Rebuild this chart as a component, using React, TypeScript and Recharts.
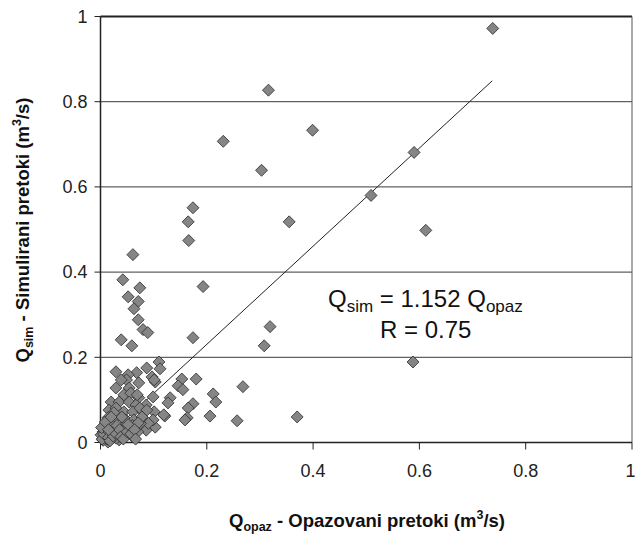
import React from 'react';
import { ScatterChart, Scatter, XAxis, YAxis, CartesianGrid, ReferenceLine, Customized } from 'recharts';

// Observed flow Q_opaz (m3/s)
const observedFlow = [
  0.738, 0.316, 0.231, 0.399, 0.590, 0.303, 0.509, 0.612, 0.588, 0.355,
  0.174, 0.165, 0.166, 0.193, 0.319, 0.308, 0.174, 0.268, 0.370, 0.257,
  0.061, 0.042, 0.074, 0.052, 0.071, 0.063, 0.071, 0.080, 0.089, 0.039,
  0.059, 0.110, 0.112, 0.087, 0.068, 0.029, 0.052, 0.049, 0.097, 0.103,
  0.153, 0.180, 0.146, 0.155, 0.212, 0.217, 0.131, 0.127, 0.174, 0.165,
  0.206, 0.163, 0.159, 0.121, 0.103, 0.099, 0.039, 0.072, 0.101, 0.029,
  0.054, 0.044, 0.057, 0.072, 0.020, 0.035, 0.054, 0.067, 0.086, 0.016,
  0.029, 0.044, 0.061, 0.080, 0.101, 0.119, 0.014, 0.029, 0.048, 0.063,
  0.080, 0.099, 0.010, 0.024, 0.039, 0.054, 0.071, 0.086, 0.005, 0.016,
  0.033, 0.048, 0.061, 0.007, 0.020, 0.035, 0.001, 0.014, 0.005, 0.010,
  0.022, 0.026, 0.030, 0.012, 0.042, 0.045, 0.018, 0.008, 0.070, 0.090,
  0.075, 0.060, 0.040, 0.025, 0.069, 0.074, 0.087, 0.078, 0.071,
  0.003, 0.006, 0.012, 0.015, 0.018, 0.024, 0.028, 0.031, 0.036, 0.038,
  0.043, 0.050, 0.052, 0.057, 0.064, 0.066, 0.002, 0.009, 0.020, 0.015,
];

// Simulated flow Q_sim (m3/s)
const simulatedFlow = [
  0.972, 0.827, 0.707, 0.733, 0.681, 0.639, 0.580, 0.498, 0.189, 0.518,
  0.551, 0.518, 0.474, 0.366, 0.272, 0.227, 0.246, 0.131, 0.060, 0.051,
  0.441, 0.382, 0.363, 0.342, 0.331, 0.314, 0.288, 0.265, 0.258, 0.241,
  0.227, 0.189, 0.173, 0.175, 0.164, 0.166, 0.159, 0.147, 0.154, 0.142,
  0.149, 0.149, 0.133, 0.124, 0.114, 0.095, 0.105, 0.093, 0.091, 0.081,
  0.062, 0.058, 0.053, 0.062, 0.036, 0.107, 0.147, 0.140, 0.147, 0.128,
  0.128, 0.112, 0.116, 0.105, 0.095, 0.095, 0.095, 0.088, 0.088, 0.076,
  0.081, 0.072, 0.072, 0.072, 0.072, 0.065, 0.058, 0.058, 0.053, 0.053,
  0.053, 0.053, 0.041, 0.036, 0.036, 0.034, 0.034, 0.029, 0.025, 0.022,
  0.022, 0.018, 0.013, 0.011, 0.011, 0.006, 0.018, 0.001, 0.005, 0.015,
  0.020, 0.030, 0.010, 0.008, 0.022, 0.030, 0.045, 0.030, 0.025, 0.045,
  0.045, 0.040, 0.060, 0.070, 0.112, 0.081, 0.076, 0.060, 0.046,
  0.008, 0.020, 0.030, 0.012, 0.004, 0.015, 0.022, 0.040, 0.030, 0.013,
  0.008, 0.025, 0.042, 0.020, 0.030, 0.008, 0.035, 0.048, 0.060, 0.030,
];

const axisTicks = [0, 0.2, 0.4, 0.6, 0.8, 1];
const regressionSlope = 1.152;
const correlation = 0.75;
const trendRange = [0, 0.737];

const points = observedFlow.map((x, i) => ({ x, y: simulatedFlow[i] }));
const trend = trendRange.map((x) => ({ x, y: regressionSlope * x }));

const FONT = 'Arial, "Liberation Sans", sans-serif';

const Diamond = (props: any) => {
  const { cx, cy } = props;
  const r = 6;
  return (
    <polygon
      points={`${cx},${cy - r} ${cx + r},${cy} ${cx},${cy + r} ${cx - r},${cy}`}
      fill="#858585"
      stroke="#2a2a2a"
      strokeWidth={0.8}
    />
  );
};

const Annotations = () => (
  <g fontFamily={FONT} fill="#111">
    <text x={328} y={307} fontSize={24}>
      Q<tspan dy={5} fontSize={17}>sim</tspan>
      <tspan dy={-5}> = {regressionSlope.toFixed(3)} Q</tspan>
      <tspan dy={5} fontSize={17}>opaz</tspan>
    </text>
    <text x={380} y={338} fontSize={24}>
      R = {correlation.toFixed(2)}
    </text>
    <text x={367} y={527} fontSize={18.5} fontWeight="bold" textAnchor="middle">
      Q<tspan dy={4} fontSize={12.5}>opaz</tspan>
      <tspan dy={-4}> - Opazovani pretoki (m</tspan>
      <tspan dy={-8} fontSize={12.5}>3</tspan>
      <tspan dy={8}>/s)</tspan>
    </text>
    <text
      x={0}
      y={0}
      fontSize={18.5}
      fontWeight="bold"
      textAnchor="middle"
      transform="translate(29,230) rotate(-90)"
    >
      Q<tspan dy={4} fontSize={12.5}>sim</tspan>
      <tspan dy={-4}> - Simulirani pretoki (m</tspan>
      <tspan dy={-8} fontSize={12.5}>3</tspan>
      <tspan dy={8}>/s)</tspan>
    </text>
  </g>
);

export default function App() {
  return (
    <div style={{ position: 'absolute', left: 0, top: 0, background: '#fff' }}>
      <ScatterChart
        width={635}
        height={537}
        margin={{ top: 16.5, right: 3, left: 40.5, bottom: 54.5 }}
      >
        <CartesianGrid vertical={false} stroke="#3a3a3a" strokeWidth={1} />
        <XAxis
          type="number"
          dataKey="x"
          domain={[0, 1]}
          ticks={axisTicks}
          height={40}
          tickSize={7}
          tickMargin={15}
          axisLine={{ stroke: '#222', strokeWidth: 1.5 }}
          tickLine={{ stroke: '#222' }}
          tick={{ fill: '#222', fontSize: 18, fontFamily: FONT }}
        />
        <YAxis
          type="number"
          dataKey="y"
          domain={[0, 1]}
          ticks={axisTicks}
          width={60}
          tickSize={6}
          tickMargin={7}
          axisLine={{ stroke: '#222', strokeWidth: 1.5 }}
          tickLine={{ stroke: '#222' }}
          tick={{ fill: '#222', fontSize: 18, fontFamily: FONT }}
        />
        <ReferenceLine y={1} stroke="#222" strokeWidth={2} />
        <ReferenceLine x={1} stroke="#555" strokeWidth={1} />
        <Scatter data={points} shape={Diamond} isAnimationActive={false} />
        <ReferenceLine
          segment={[trend[0], trend[1]]}
          stroke="#222"
          strokeWidth={1}
        />
        <Customized component={Annotations} />
      </ScatterChart>
    </div>
  );
}
